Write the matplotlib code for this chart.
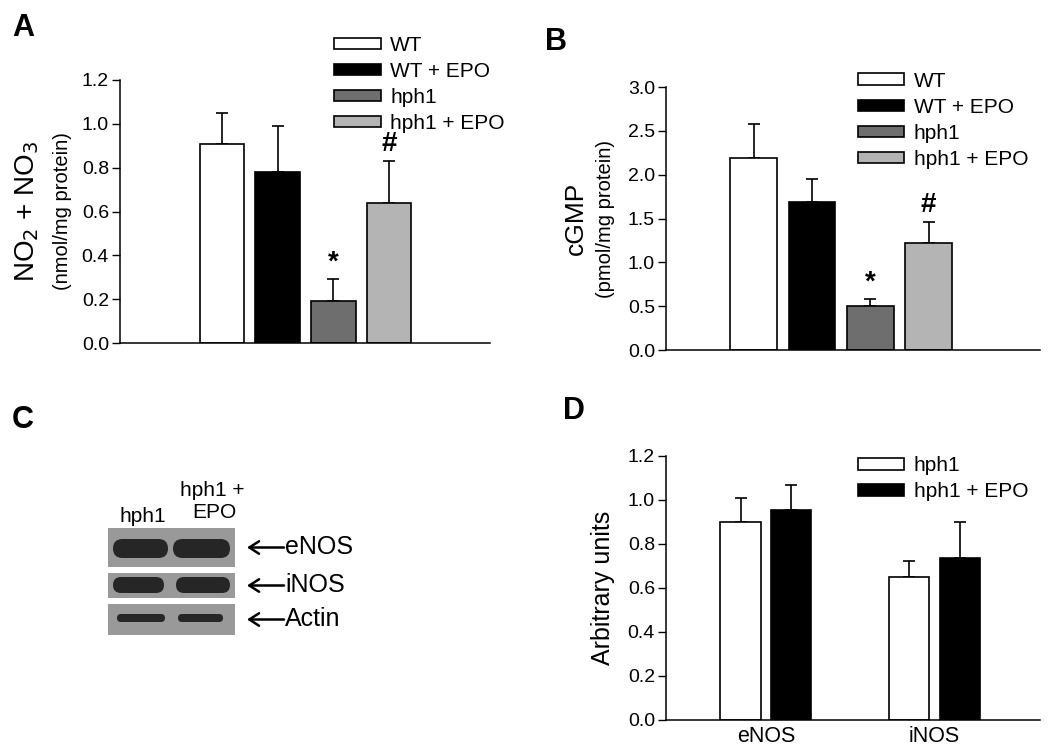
import numpy as np
import matplotlib.pyplot as plt
from matplotlib.patches import Rectangle, FancyBboxPatch, Patch

plt.rcParams['font.family'] = ['Liberation Sans', 'DejaVu Sans']

# panel A / B data
groups = ['WT', 'WT + EPO', 'hph1', 'hph1 + EPO']
colors = ['white', 'black', '#6e6e6e', '#b4b4b4']
nox_mean = [0.91, 0.78, 0.19, 0.64]
nox_err = [0.14, 0.21, 0.10, 0.19]
cgmp_mean = [2.19, 1.69, 0.50, 1.22]
cgmp_err = [0.39, 0.26, 0.08, 0.24]
marks = ['', '', '*', '#']

# panel D data
proteins = ['eNOS', 'iNOS']
d_groups = ['hph1', 'hph1 + EPO']
d_colors = ['white', 'black']
hph1_mean = [0.90, 0.65]
hph1_err = [0.11, 0.075]
epo_mean = [0.955, 0.735]
epo_err = [0.115, 0.165]

# panel C blot
blot_rows = ['eNOS', 'iNOS', 'Actin']

W, H = 1050, 756
fig = plt.figure(figsize=(10.5, 7.56), dpi=100)


def ax_px(x0, x1, y_top, y_bot):
    return fig.add_axes([x0 / W, 1 - y_bot / H, (x1 - x0) / W, (y_bot - y_top) / H])


def style(ax, ymax, step):
    ax.spines['top'].set_visible(False)
    ax.spines['right'].set_visible(False)
    ax.set_ylim(0, ymax)
    ax.set_yticks(np.arange(0, ymax + 1e-9, step))
    ax.tick_params(axis='y', direction='out', length=6, labelsize=14, width=1, pad=2)
    ax.tick_params(axis='x', length=0)
    ax.set_xticks([])
    for s in ('left', 'bottom'):
        ax.spines[s].set_linewidth(1.1)


def bars4(ax, means, errs, ymax, step, fmt, xl):
    x = np.arange(len(means))
    ax.bar(x, means, width=0.8, color=colors, edgecolor='black', linewidth=1.2, zorder=2)
    ax.errorbar(x, means, yerr=[np.zeros(len(errs)), errs], fmt='none', ecolor='black',
                elinewidth=1.2, capsize=4.5, capthick=1.2, zorder=1)
    for xi, m, e, t in zip(x, means, errs, marks):
        if t:
            ax.text(xi, m + e + 0.015 * ymax, t, ha='center', va='bottom', fontsize=20,
                    fontweight='bold')
    style(ax, ymax, step)
    ax.yaxis.set_major_formatter(plt.FormatStrFormatter(fmt))
    ax.set_xlim(*xl)


legkw = dict(frameon=False, fontsize=15, handlelength=2.25, handleheight=0.48,
             labelspacing=0.34, handletextpad=0.45, borderaxespad=0, loc='upper left')

# A
axA = ax_px(120, 490, 80, 343)
bars4(axA, nox_mean, nox_err, 1.2, 0.2, '%.1f', (-1.83, 4.81))
axA.legend([Patch(facecolor=c, edgecolor='black', linewidth=1.2) for c in colors], groups,
           bbox_to_anchor=(0.556, 1.2), **legkw)
axA.text(-0.25, 0.5, r'NO$_2$ + NO$_3$', transform=axA.transAxes, rotation=90,
         ha='center', va='center', fontsize=20)
axA.text(-0.155, 0.5, '(nmol/mg protein)', transform=axA.transAxes, rotation=90,
         ha='center', va='center', fontsize=14.5)

# B
axB = ax_px(666, 1040, 87, 350)
bars4(axB, cgmp_mean, cgmp_err, 3.0, 0.5, '%.1f', (-1.50, 4.91))
axB.legend([Patch(facecolor=c, edgecolor='black', linewidth=1.2) for c in colors], groups,
           bbox_to_anchor=(0.49, 1.09), **legkw)
axB.text(-0.24, 0.5, 'cGMP', transform=axB.transAxes, rotation=90,
         ha='center', va='center', fontsize=19)
axB.text(-0.163, 0.5, '(pmol/mg protein)', transform=axB.transAxes, rotation=90,
         ha='center', va='center', fontsize=14.5)

# D
axD = ax_px(666, 1040, 456, 720)
xd = np.arange(len(proteins))
for off, m, e, c, lab in [(-0.15, hph1_mean, hph1_err, 'white', d_groups[0]),
                          (0.15, epo_mean, epo_err, 'black', d_groups[1])]:
    axD.bar(xd + off, m, width=0.24, color=c, edgecolor='black', linewidth=1.2,
            label=lab, zorder=2)
    axD.errorbar(xd + off, m, yerr=[np.zeros(len(e)), e], fmt='none', ecolor='black',
                 elinewidth=1.2, capsize=4.5, capthick=1.2, zorder=1)
style(axD, 1.2, 0.2)
axD.yaxis.set_major_formatter(plt.FormatStrFormatter('%.1f'))
axD.set_xlim(-0.593, 1.626)
axD.set_xticks(xd)
axD.set_xticklabels(proteins, fontsize=15.5)
axD.tick_params(axis='x', length=0, pad=4)
axD.legend(bbox_to_anchor=(0.49, 1.03), **legkw)
axD.text(-0.168, 0.5, 'Arbitrary units', transform=axD.transAxes, rotation=90,
         ha='center', va='center', fontsize=18)

# C: western blot sketch
axC = ax_px(0, 520, 380, 756)
axC.set_xlim(0, 520)
axC.set_ylim(756, 380)
axC.axis('off')
strips = [(528, 567), (573, 598), (604, 635)]
bands = [[(113, 168, 539, 558), (173, 230, 539, 558)],
         [(113, 164, 577, 593), (176, 230, 577, 593)],
         [(117, 165, 614, 622), (178, 223, 614, 622)]]
for name, (y0, y1), bl in zip(blot_rows, strips, bands):
    axC.add_patch(Rectangle((108, y0), 127, y1 - y0, facecolor='#999999', edgecolor='none'))
    for bx0, bx1, by0, by1 in bl:
        h = by1 - by0
        axC.add_patch(FancyBboxPatch((bx0, by0), bx1 - bx0, h,
                                     boxstyle='round,pad=0,rounding_size=%f' % (h / 2),
                                     facecolor='#262626', edgecolor='none'))
    yc = (y0 + y1) / 2
    axC.annotate('', xy=(247, yc), xytext=(284, yc),
                 arrowprops=dict(arrowstyle='->,head_length=0.7,head_width=0.45', lw=1.8,
                                 color='black', shrinkA=0, shrinkB=0))
    axC.text(285, yc, name, ha='left', va='center', fontsize=18)
axC.text(143, 517, 'hph1', ha='center', va='center', fontsize=15)
axC.text(212, 490, 'hph1 +', ha='center', va='center', fontsize=15)
axC.text(214, 512, 'EPO', ha='center', va='center', fontsize=15)

# panel letters
for lbl, x, y in [('A', 12, 28), ('B', 545, 42), ('C', 12, 420), ('D', 563, 411)]:
    fig.text(x / W, 1 - y / H, lbl, fontsize=22, fontweight='bold', ha='left', va='center')

fig.savefig('out.png', dpi=100)
